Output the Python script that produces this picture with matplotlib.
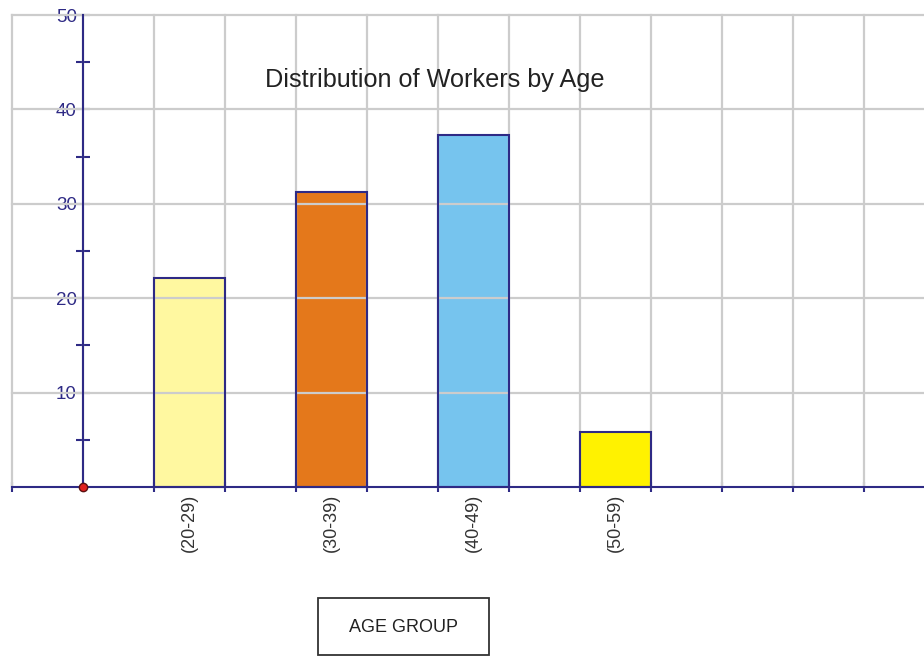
import matplotlib.pyplot as plt
from matplotlib.patches import Rectangle
import numpy as np

plt.rcParams['font.family'] = ['Liberation Sans', 'DejaVu Sans']

groups = ['(20-29)', '(30-39)', '(40-49)', '(50-59)']
workers = [22.1, 31.3, 37.3, 5.8]
colors = ['#fff8a0', '#e4781b', '#76c4ee', '#fff200']
navy = '#2e2a85'

fig = plt.figure(figsize=(9.24, 6.56), dpi=100)
ax = fig.add_axes([0, 0, 1, 1])
ax.set_xlim(-1.17, 11.85)
ax.set_ylim(-17.9, 51.6)

pos = np.array([1.5, 3.5, 5.5, 7.5])

# bars, then grid on top, then outlines
ax.bar(pos, workers, width=1.0, color=colors, edgecolor='none', zorder=1)
for gx in range(-1, 12):
    ax.plot([gx, gx], [0, 50], color='#cccccc', lw=1.6, zorder=2)
for gy in range(10, 51, 10):
    ax.plot([-1, 11.85], [gy, gy], color='#cccccc', lw=1.6, zorder=2)
ax.bar(pos, workers, width=1.0, fill=False, edgecolor=navy, lw=1.5, zorder=3)

for s in ['top', 'right']:
    ax.spines[s].set_visible(False)
ax.spines['left'].set_position(('data', 0))
ax.spines['left'].set_bounds(0, 50)
ax.spines['bottom'].set_position(('data', 0))
ax.spines['bottom'].set_bounds(-1, 11.85)
for s in ['left', 'bottom']:
    ax.spines[s].set_color(navy)
    ax.spines[s].set_linewidth(1.5)
    ax.spines[s].set_zorder(4)

ax.set_yticks([10, 20, 30, 40, 50])
ax.set_yticks([5, 15, 25, 35, 45], minor=True)
ax.tick_params(axis='y', which='both', direction='inout', length=10, width=1.5,
               color=navy, labelcolor=navy, labelsize=13.5, pad=-0.5)
ax.set_xticks(range(-1, 12))
ax.set_xticklabels([])
ax.set_xticks(pos, minor=True)
ax.set_xticklabels(groups, minor=True, rotation=90, color='#333333', fontsize=13)
ax.tick_params(axis='x', which='major', direction='inout', length=7, width=1.5, color=navy)
ax.tick_params(axis='x', which='minor', length=0, pad=5)

ax.plot(0, 0, 'o', color='#e02020', markeredgecolor='#5a1010', ms=6, zorder=5, clip_on=False)

ax.text(4.96, 43.1, 'Distribution of Workers by Age', fontsize=18.2, ha='center',
        va='center', color='#222222')

ax.add_patch(Rectangle((3.31, -17.8), 2.41, 6.05, fill=False, edgecolor='#333333',
                       lw=1.3, clip_on=False))
ax.text(4.515, -14.9, 'AGE GROUP', fontsize=13, ha='center', va='center', color='#222222')

fig.savefig('out.png', dpi=100)
